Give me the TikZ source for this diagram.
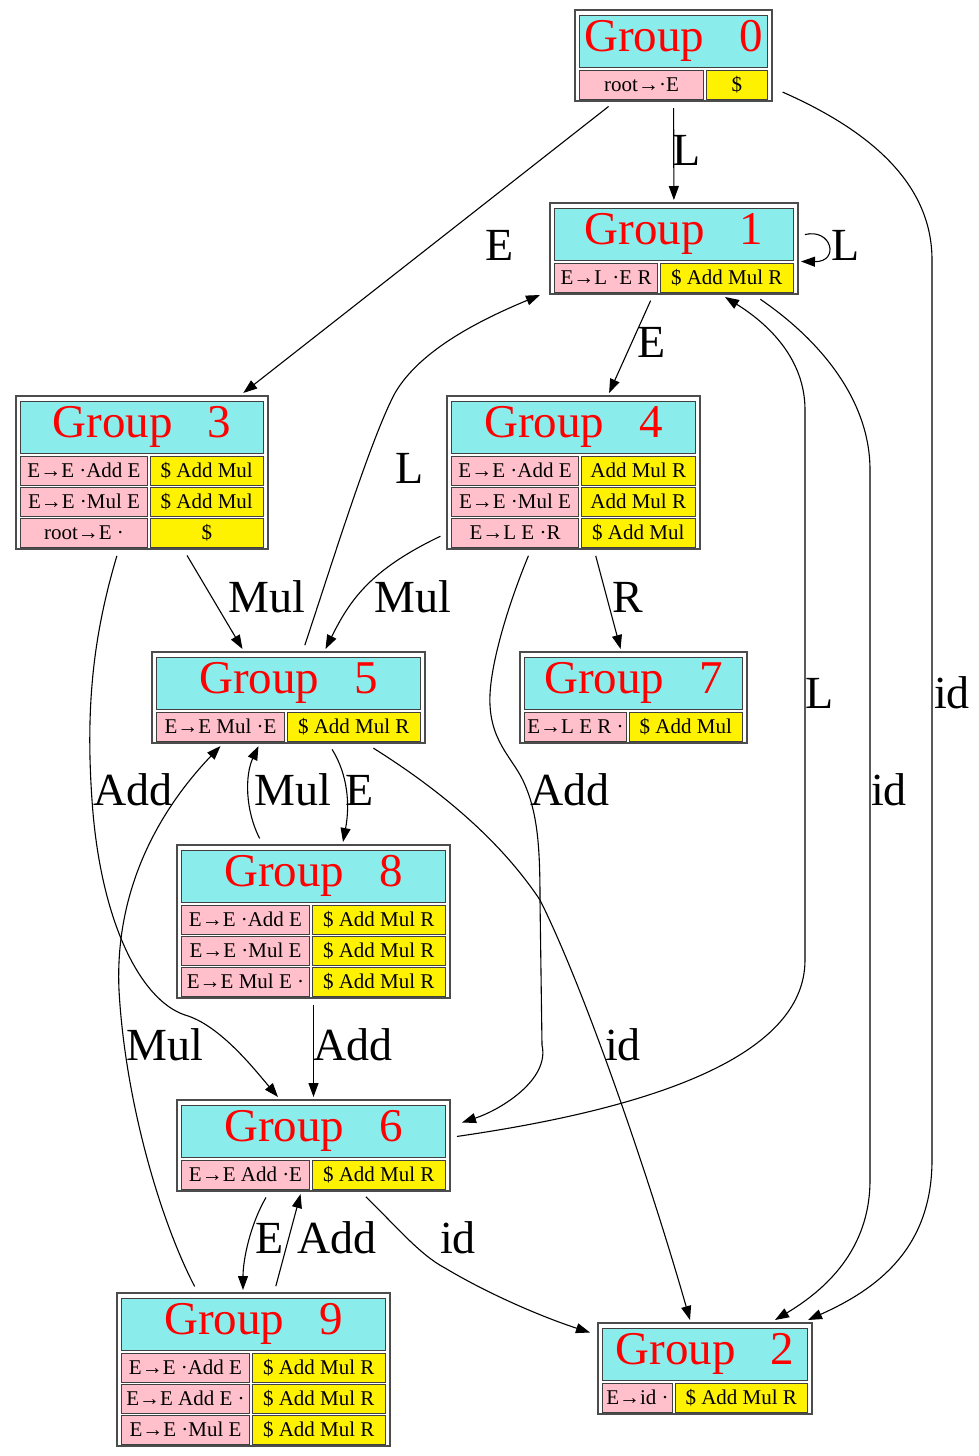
\documentclass[tikz,border=0pt]{standalone}
\usepackage{fontspec}
\setmainfont{Liberation Serif}
\usepackage{xcolor}
\usepackage{tikz}
\usetikzlibrary{arrows.meta}

\definecolor{groupcyan}{RGB}{139,236,236}
\definecolor{rowpink}{HTML}{FFC0CB}

\begin{document}
\begin{tikzpicture}[x=1pt, y=-1pt,
  grp/.style={draw=black!70, line width=1.2pt, fill=white, inner sep=0pt, outer sep=3pt},
  head/.style={draw=black!75, line width=1pt, fill=groupcyan, text=red, inner sep=0pt,
               minimum height=52pt, anchor=north, font=\fontsize{47}{52}\selectfont},
  lhs/.style={draw=black!75, line width=1pt, fill=rowpink, inner sep=0pt,
              minimum height=29pt, anchor=north west, font=\fontsize{21}{24}\selectfont},
  rhs/.style={lhs, fill=yellow, anchor=north east},
  trans/.style={-{Triangle[length=14pt,width=10pt]}, line width=1.1pt, shorten <=4pt},
  lbl/.style={inner sep=0pt, font=\fontsize{46}{50}\selectfont}]
  \useasboundingbox (0,0) rectangle (978,1456);

  % groups
  \node[grp, minimum width=197pt, minimum height=91pt] (g0) at (673.5,55.5) {};
  \node[head, minimum width=188pt] (h0) at ([yshift=-7.5pt]g0.north) {Group\ \ \ 0};
  \node[lhs, minimum width=124pt] (g0l1) at ([yshift=-2pt]h0.south west) {root→·E};
  \node[rhs, minimum width=61.5pt] (g0r1) at ([yshift=-2pt]h0.south east) {\$};

  \node[grp, minimum width=248pt, minimum height=91pt] (g1) at (674,248.5) {};
  \node[head, minimum width=239pt] (h1) at ([yshift=-7.5pt]g1.north) {Group\ \ \ 1};
  \node[lhs, minimum width=103pt] (g1l1) at ([yshift=-2pt]h1.south west) {E→L ·E R};
  \node[rhs, minimum width=133.5pt] (g1r1) at ([yshift=-2pt]h1.south east) {\$ Add Mul R};

  \node[grp, minimum width=252pt, minimum height=153pt] (g3) at (142,472.5) {};
  \node[head, minimum width=243pt] (h3) at ([yshift=-7.5pt]g3.north) {Group\ \ \ 3};
  \foreach \l/\r [count=\i] in {E→E ·Add E/\$ Add Mul, E→E ·Mul E/\$ Add Mul, root→E ·/\$} {
    \node[lhs, minimum width=127pt] (g3l\i) at ([yshift={-2pt-31pt*(\i-1)}]h3.south west) {\l};
    \node[rhs, minimum width=113.5pt] (g3r\i) at ([yshift={-2pt-31pt*(\i-1)}]h3.south east) {\r};
  }

  \node[grp, minimum width=253pt, minimum height=153pt] (g4) at (573.5,472.5) {};
  \node[head, minimum width=244pt] (h4) at ([yshift=-7.5pt]g4.north) {Group\ \ \ 4};
  \foreach \l/\r [count=\i] in {E→E ·Add E/Add Mul R, E→E ·Mul E/Add Mul R, E→L E ·R/\$ Add Mul} {
    \node[lhs, minimum width=127pt] (g4l\i) at ([yshift={-2pt-31pt*(\i-1)}]h4.south west) {\l};
    \node[rhs, minimum width=114.5pt] (g4r\i) at ([yshift={-2pt-31pt*(\i-1)}]h4.south east) {\r};
  }

  \node[grp, minimum width=273pt, minimum height=91pt] (g5) at (288.5,697.5) {};
  \node[head, minimum width=264pt] (h5) at ([yshift=-7.5pt]g5.north) {Group\ \ \ 5};
  \node[lhs, minimum width=128pt] (g5l1) at ([yshift=-2pt]h5.south west) {E→E Mul ·E};
  \node[rhs, minimum width=133.5pt] (g5r1) at ([yshift=-2pt]h5.south east) {\$ Add Mul R};

  \node[grp, minimum width=227pt, minimum height=91pt] (g7) at (633.5,697.5) {};
  \node[head, minimum width=218pt] (h7) at ([yshift=-7.5pt]g7.north) {Group\ \ \ 7};
  \node[lhs, minimum width=102pt] (g7l1) at ([yshift=-2pt]h7.south west) {E→L E R ·};
  \node[rhs, minimum width=113.5pt] (g7r1) at ([yshift=-2pt]h7.south east) {\$ Add Mul};

  \node[grp, minimum width=273pt, minimum height=153pt] (g8) at (313.5,921.5) {};
  \node[head, minimum width=264pt] (h8) at ([yshift=-7.5pt]g8.north) {Group\ \ \ 8};
  \foreach \l [count=\i] in {E→E ·Add E, E→E ·Mul E, E→E Mul E ·} {
    \node[lhs, minimum width=128pt] (g8l\i) at ([yshift={-2pt-31pt*(\i-1)}]h8.south west) {\l};
    \node[rhs, minimum width=133.5pt] (g8r\i) at ([yshift={-2pt-31pt*(\i-1)}]h8.south east) {\$ Add Mul R};
  }

  \node[grp, minimum width=273pt, minimum height=91pt] (g6) at (313.5,1145.5) {};
  \node[head, minimum width=264pt] (h6) at ([yshift=-7.5pt]g6.north) {Group\ \ \ 6};
  \node[lhs, minimum width=128pt] (g6l1) at ([yshift=-2pt]h6.south west) {E→E Add ·E};
  \node[rhs, minimum width=133.5pt] (g6r1) at ([yshift=-2pt]h6.south east) {\$ Add Mul R};

  \node[grp, minimum width=273pt, minimum height=153pt] (g9) at (253.5,1369.5) {};
  \node[head, minimum width=264pt] (h9) at ([yshift=-7.5pt]g9.north) {Group\ \ \ 9};
  \foreach \l [count=\i] in {E→E ·Add E, E→E Add E ·, E→E ·Mul E} {
    \node[lhs, minimum width=128pt] (g9l\i) at ([yshift={-2pt-31pt*(\i-1)}]h9.south west) {\l};
    \node[rhs, minimum width=133.5pt] (g9r\i) at ([yshift={-2pt-31pt*(\i-1)}]h9.south east) {\$ Add Mul R};
  }

  \node[grp, minimum width=214pt, minimum height=91pt] (g2) at (705,1368.5) {};
  \node[head, minimum width=205pt] (h2) at ([yshift=-7.5pt]g2.north) {Group\ \ \ 2};
  \node[lhs, minimum width=70pt] (g2l1) at ([yshift=-2pt]h2.south west) {E→id ·};
  \node[rhs, minimum width=132.5pt] (g2r1) at ([yshift=-2pt]h2.south east) {\$ Add Mul R};

  % transitions
  \draw[trans] (g0) -- (g1);
  \node[lbl] (lab01) at (687,150) {L};
  \draw[trans] (g0) -- (g3);
  \node[lbl] (lab03) at (500,245) {E};
  \draw[trans] ([xshift=4pt,yshift=-35pt]g0.east) .. controls (880,135) and (932,190) .. (932,260)
    -- (932,1160) .. controls (932,1250) and (875,1290) .. ([xshift=103pt]g2.north);
  \node[lbl] (lab02) at (952,693) {id};

  \draw[trans] ([yshift=13pt]g1.east) .. controls (832,228) and (840,262) .. ([yshift=-13pt]g1.east);
  \node[lbl] (lab11) at (846,245) {L};
  \draw[trans] (g1) -- (g4);
  \node[lbl] (lab14) at (652,342) {E};
  \draw[trans] ([xshift=83pt]g1.south) .. controls (820,340) and (870,400) .. (870,470)
    -- (870,1180) .. controls (870,1250) and (825,1290) .. ([xshift=70pt]g2.north);
  \node[lbl] (lab12) at (889,790) {id};

  \draw[trans] ([xshift=43pt]g3.south) -- ([xshift=-46pt]g5.north);
  \node[lbl] (lab35) at (267,597) {Mul};
  \draw[trans] ([xshift=-24pt]g3.south) .. controls (95,630) and (85,700) .. (92,800)
    .. controls (100,920) and (140,1000) .. (185,1015) .. controls (220,1025) and (255,1070) .. ([xshift=-35.5pt]g6.north);
  \node[lbl] (lab36) at (133,790) {Add};

  \draw[trans] ([yshift=-62pt]g4.west) .. controls (370,570) and (350,600) .. ([xshift=37pt]g5.north);
  \node[lbl] (lab45) at (413,597) {Mul};
  \draw[trans] (g4) -- (g7);
  \node[lbl] (lab47) at (628,597) {R};
  \draw[trans] ([xshift=-43.5pt]g4.south) .. controls (508,605) and (488,670) .. (490,705)
    .. controls (492,745) and (515,760) .. (525,785) .. controls (538,815) and (540,850) .. (540,900)
    -- (542,1045) .. controls (550,1080) and (500,1110) .. ([xshift=9pt,yshift=23pt]g6.east);
  \node[lbl] (lab46) at (570,790) {Add};

  \draw[trans] ([xshift=15pt]g5.north) .. controls (330,570) and (370,440) .. (395,393)
    .. controls (420,350) and (480,320) .. ([xshift=-7pt,yshift=2pt]g1.south west);
  \node[lbl] (lab51) at (410,468) {L};
  \draw[trans] ([xshift=41.5pt]g5.south) .. controls (348,775) and (350,805) .. ([xshift=29.5pt]g8.north);
  \node[lbl] (lab58) at (360,790) {E};
  \draw[trans] ([xshift=-52pt]g8.north) .. controls (245,810) and (245,775) .. ([xshift=-30pt]g5.south);
  \node[lbl] (lab85) at (293,790) {Mul};
  \draw[trans] ([xshift=81.5pt]g5.south) .. controls (440,790) and (500,840) .. (540,900)
    .. controls (585,990) and (650,1180) .. ([xshift=-15pt]g2.north);
  \node[lbl] (lab52) at (623,1045) {id};

  \draw[trans] (g8) -- (g6);
  \node[lbl] (lab86) at (353,1045) {Add};
  \draw[trans] ([yshift=8.5pt]g6.east) .. controls (640,1110) and (805,1060) .. (805,960)
    -- (805,410) .. controls (805,360) and (770,325) .. ([xshift=51pt]g1.south);
  \node[lbl] (lab61) at (820,693) {L};
  \draw[trans] ([xshift=-45.5pt]g6.south) .. controls (250,1225) and (243,1260) .. ([xshift=-10.5pt]g9.north);
  \node[lbl] (lab69) at (270,1238) {E};
  \draw[trans] (g9) -- (g6);
  \node[lbl] (lab96) at (337,1238) {Add};
  \draw[trans] ([xshift=49.5pt]g6.south) .. controls (395,1225) and (420,1255) .. (445,1268)
    .. controls (490,1295) and (545,1318) .. ([xshift=-5pt,yshift=36pt]g2.west);
  \node[lbl] (lab62) at (458,1238) {id};
  \draw[trans] ([xshift=-57pt]g9.north) .. controls (160,1220) and (125,1100) .. (119,990)
    .. controls (115,900) and (150,820) .. ([xshift=-68pt]g5.south);
  \node[lbl] (lab95) at (165,1045) {Mul};

\end{tikzpicture}
\end{document}
